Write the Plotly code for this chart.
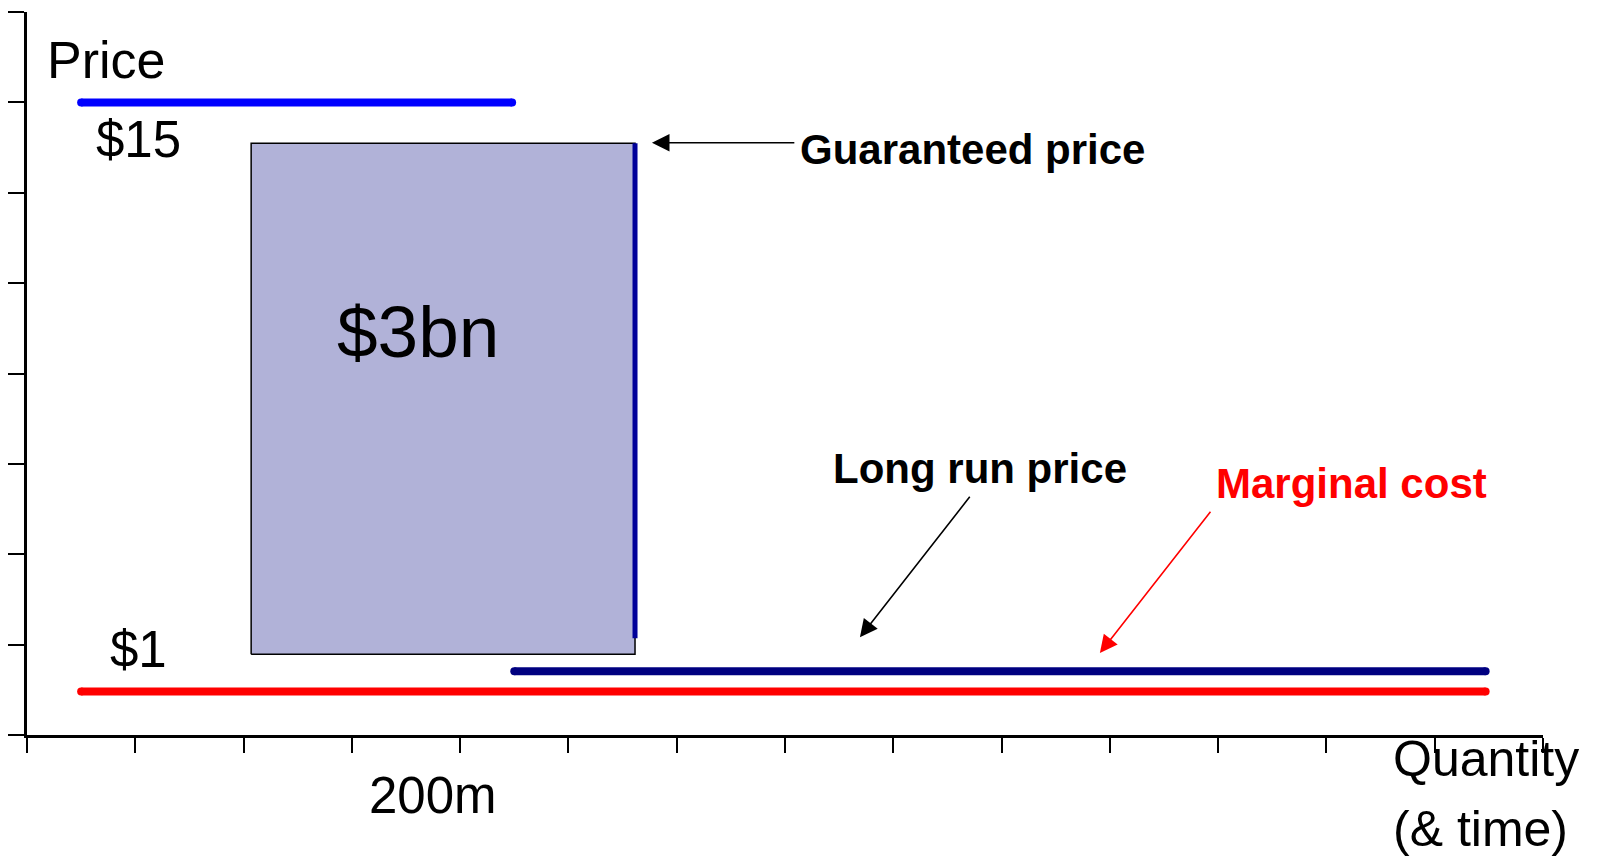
import plotly.graph_objects as go

# Axis grid (quantity ticks along x, price steps along y)
qty_ticks = list(range(15))
price_ticks = list(range(9))
PRICE_TOP = 8

# Price lines: [start, end] along quantity and the price level they sit at
guaranteed_q = [0.50, 4.48]
guaranteed_p = [7.0, 7.0]
long_run_q = [4.50, 13.47]
long_run_p = [0.705, 0.705]
marginal_q = [0.50, 13.47]
marginal_p = [0.48, 0.48]

# Subsidy block: quantity span and price span
subsidy_q = [2.07, 5.615]
subsidy_p = [0.893, 6.549]
# Guaranteed-price edge on the right of the block
edge_q = [5.615, 5.615]
edge_p = [1.07, 6.549]

FONT = "Liberation Sans, Arial, sans-serif"

fig = go.Figure()

# Shaded subsidy rectangle
fig.add_trace(go.Scatter(
    x=[subsidy_q[0], subsidy_q[1], subsidy_q[1], subsidy_q[0], subsidy_q[0]],
    y=[subsidy_p[0], subsidy_p[0], subsidy_p[1], subsidy_p[1], subsidy_p[0]],
    mode="lines", fill="toself", fillcolor="#B1B2D8",
    line=dict(color="#000000", width=1.5),
    hoverinfo="skip", showlegend=False,
))

# Vertical guaranteed-price edge
fig.add_trace(go.Scatter(
    x=edge_q, y=edge_p, mode="lines",
    line=dict(color="#000099", width=5),
    hoverinfo="skip", showlegend=False,
))


def price_line(q, p, color, width):
    # thick line with rounded ends (end markers act as caps)
    fig.add_trace(go.Scatter(
        x=q, y=p, mode="lines+markers",
        line=dict(color=color, width=width),
        marker=dict(color=color, size=width, line=dict(width=0)),
        hoverinfo="skip", showlegend=False,
    ))


price_line(guaranteed_q, guaranteed_p, "#0000FF", 8)
price_line(marginal_q, marginal_p, "#FF0000", 8)
price_line(long_run_q, long_run_p, "#000080", 8)

annotations = []


def label(text, x, y, size, color="#000000", bold=False, xanchor="center",
          yanchor="middle", align="center"):
    # labels below the x axis sit outside the data range, so place them in
    # paper units vertically to keep them visible
    yref = "y"
    if y < 0:
        yref, y = "paper", y / PRICE_TOP
    annotations.append(dict(
        x=x, y=y, xref="x", yref=yref, text=f"<b>{text}</b>" if bold else text,
        showarrow=False, xanchor=xanchor, yanchor=yanchor, align=align,
        font=dict(family=FONT, size=size, color=color),
    ))


def arrow(tip, tail, color):
    annotations.append(dict(
        x=tip[0], y=tip[1], ax=tail[0], ay=tail[1],
        xref="x", yref="y", axref="x", ayref="y", text="",
        showarrow=True, arrowhead=2, arrowsize=2.2, arrowwidth=1.6,
        arrowcolor=color, standoff=0,
    ))


label("Price", 0.17, 7.47, 52, xanchor="left")
label("$15", 1.034, 6.59, 51)
label("$1", 1.034, 0.95, 51)
label("$3bn", 3.61, 4.47, 73)
label("200m", 3.75, -0.667, 51)
label("Quantity", 12.60, -0.269, 50, xanchor="left")
label("(& time)", 12.60, -1.043, 50, xanchor="left")
label("Guaranteed price", 7.12, 6.48, 42, bold=True, xanchor="left")
label("Long run price", 8.80, 2.95, 42, bold=True)
label("Marginal cost", 12.235, 2.78, 42, color="#FF0000", bold=True)

arrow((5.771, 6.553), (7.10, 6.553), "#000000")
arrow((7.692, 1.081), (8.717, 2.652), "#000000")
arrow((9.908, 0.907), (10.94, 2.486), "#FF0000")

axis_common = dict(
    showgrid=False, zeroline=False, showline=True, linecolor="#000000",
    linewidth=2.5, ticks="outside", tickcolor="#000000", tickwidth=2.2,
    showticklabels=False, fixedrange=True,
)

fig.update_layout(
    width=1609, height=857,
    margin=dict(l=27, r=66, t=12, b=122),
    paper_bgcolor="#FFFFFF", plot_bgcolor="#FFFFFF",
    xaxis=dict(range=[0, 14], tickvals=qty_ticks, ticklen=15, **axis_common),
    yaxis=dict(range=[0, PRICE_TOP], tickvals=price_ticks, ticklen=16, **axis_common),
    annotations=annotations,
    showlegend=False,
)

fig.write_html("out.html")
